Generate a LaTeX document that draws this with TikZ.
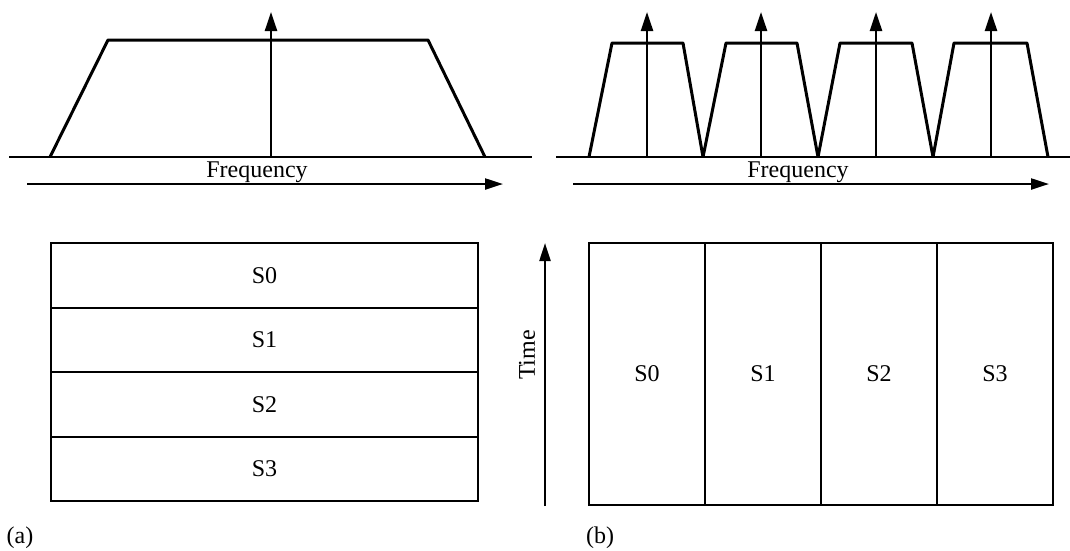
\documentclass[tikz,border=0pt]{standalone}
\usepackage{fontspec}
\setmainfont{Liberation Serif}
\usetikzlibrary{arrows.meta,positioning}
\begin{document}
\begin{tikzpicture}[x=1pt,y=-1pt,
  txt/.style={font=\fontsize{24}{28}\selectfont, inner sep=0pt},
  trap/.style={line width=3pt, line join=bevel},
  axisline/.style={line width=2pt},
  carrier/.style={line width=2.4pt, -{Triangle[length=19pt,width=12pt]}},
  axisarrow/.style={line width=2.2pt, -{Triangle[length=18pt,width=11pt]}},
  hband/.style={draw, line width=2.4pt, minimum width=427pt, minimum height=64.5pt,
                inner sep=0pt, outer sep=0pt, txt},
  vband/.style={draw, line width=2.2pt, minimum width=116pt, minimum height=262pt,
                inner sep=0pt, outer sep=0pt, txt}]
\useasboundingbox (0,0) rectangle (1070,550);

% ---------- (a) single wide channel ----------
\coordinate (aL) at (9,157);
\coordinate (aR) at (532,157);
\draw[axisline] (aL) -- (aR);
\draw[trap] (50,157) -- (108,40) -- (428,40) -- (485,157);
\coordinate (ac0) at (271,157);
\coordinate (act) at (271,12);
\draw[carrier] (ac0) -- (act);
\coordinate (afs) at (27,184);
\coordinate (afe) at (503,184);
\draw[axisarrow] (afs) -- (afe);
\node[txt, anchor=base] (afreq) at (257,177) {Frequency};

\node[hband] (s0a) at (264.5,275.5) {S0};
\node[hband, below=0pt of s0a] (s1a) {S1};
\node[hband, below=0pt of s1a] (s2a) {S2};
\node[hband, below=0pt of s2a] (s3a) {S3};
\node[txt] (lblA) at (20,538) {(a)};

% ---------- (b) four narrow sub-channels ----------
\coordinate (bL) at (556,157);
\coordinate (bR) at (1070,157);
\draw[axisline] (bL) -- (bR);
\draw[trap] (589,157) -- (612,43) -- (683,43) -- (703,157)
  -- (726,43) -- (797,43) -- (818,157)
  -- (840,43) -- (912,43) -- (933,157)
  -- (954,43) -- (1027,43) -- (1048,157);
\foreach \cx [count=\i] in {647,761,876,991}{
  \coordinate (bc\i) at (\cx,157);
  \coordinate (bt\i) at (\cx,12);
  \draw[carrier] (bc\i) -- (bt\i);
}
\coordinate (bfs) at (573,184);
\coordinate (bfe) at (1049,184);
\draw[axisarrow] (bfs) -- (bfe);
\node[txt, anchor=base] (bfreq) at (798,177) {Frequency};

\node[vband] (s0b) at (647,374) {S0};
\node[vband, right=0pt of s0b] (s1b) {S1};
\node[vband, right=0pt of s1b] (s2b) {S2};
\node[vband, right=0pt of s2b] (s3b) {S3};

\coordinate (ts) at (545,506);
\coordinate (te) at (545,243);
\draw[axisarrow] (ts) -- (te);
\node[txt, rotate=90] (time) at (527,355) {Time};
\node[txt] (lblB) at (600,538) {(b)};
\end{tikzpicture}
\end{document}
